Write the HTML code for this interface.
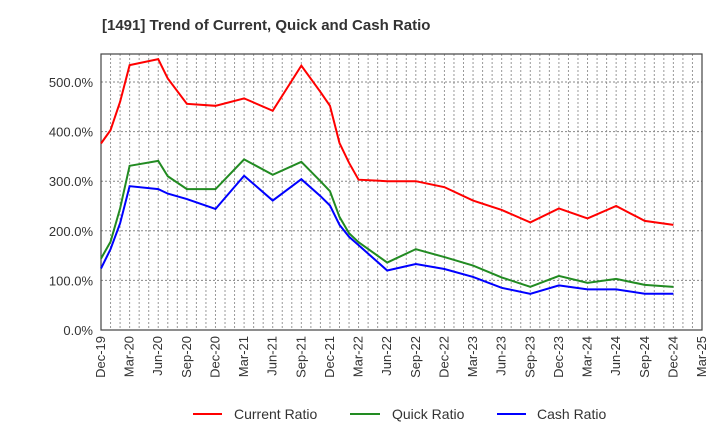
<!DOCTYPE html>
<html><head><meta charset="utf-8"><style>
body{margin:0;background:#fff;font-family:"Liberation Sans",sans-serif}
</style></head><body>
<svg id="c" width="720" height="440" xmlns="http://www.w3.org/2000/svg">
<text x="102" y="30" font-size="15" font-weight="bold" fill="#333">[1491]  Trend of Current, Quick and Cash Ratio</text>
<g id="grid"></g><g id="axes"></g><g id="series"></g>
<g>
<line x1="193" y1="414" x2="222" y2="414" stroke="#ff0000" stroke-width="2"/><text x="234" y="419" font-size="14" fill="#333">Current Ratio</text>
<line x1="350" y1="414" x2="380" y2="414" stroke="#228b22" stroke-width="2"/><text x="392" y="419" font-size="14" fill="#333">Quick Ratio</text>
<line x1="497" y1="414" x2="526" y2="414" stroke="#0000ff" stroke-width="2"/><text x="537" y="419" font-size="14" fill="#333">Cash Ratio</text>
</g>
</svg>
<script>
const months=[0,1,2,3,6,7,9,12,15,18,21,23,24,25,26,27,30,33,36,39,42,45,48,51,54,57,60];
const currentRatio=[376,403,460,534,546,507,456,452,467,442,533,480,452,377,337,303,300,300,288,261,242,217,245,225,250,220,212];
const quickRatio=[144,178,245,331,341,310,284,284,344,313,339,300,280,228,195,177,136,163,147,130,106,87,109,95,103,91,87];
const cashRatio=[124,163,215,290,284,275,264,244,311,261,304,270,251,212,188,171,120,133,123,107,85,73,90,82,82,73,73];
const xLabels=["Dec-19","Mar-20","Jun-20","Sep-20","Dec-20","Mar-21","Jun-21","Sep-21","Dec-21","Mar-22","Jun-22","Sep-22","Dec-22","Mar-23","Jun-23","Sep-23","Dec-23","Mar-24","Jun-24","Sep-24","Dec-24","Mar-25"];
const yTicks=[0,100,200,300,400,500];
const L=101,R=702,T=54,B=330,NM=63;
const x=m=>L+m*(R-L)/NM, y=v=>B-v*(B-82)/500;
const NS="http://www.w3.org/2000/svg";
function mk(p,t,a){const e=document.createElementNS(NS,t);for(const k in a)e.setAttribute(k,a[k]);p.appendChild(e);return e;}
const g=document.getElementById('grid'),ax=document.getElementById('axes'),s=document.getElementById('series');
for(let m=1;m<NM;m++){const l=mk(g,'line',{x1:x(m),x2:x(m),y1:T,y2:B,stroke:'#999','stroke-dasharray':'2,2','stroke-width':1});

}
yTicks.forEach(v=>{const l=mk(g,'line',{x1:L,x2:R,y1:y(v),y2:y(v),stroke:'#888','stroke-dasharray':'2,2','stroke-width':1});


const t=mk(ax,'text',{x:L-8,y:y(v)+5,'font-size':13,'text-anchor':'end',fill:'#333'});t.textContent=v.toFixed(1)+'%';

});
const fr=mk(ax,'rect',{x:L,y:T,width:R-L,height:B-T,fill:'none',stroke:'#444','stroke-width':1.2});


xLabels.forEach((lab,i)=>{const xx=x(i*3);const t=mk(ax,'text',{x:xx+4,y:B+6,'font-size':13,'text-anchor':'end',fill:'#333',transform:`rotate(-90 ${xx+4} ${B+6})`});t.textContent=lab;

});
[[currentRatio,'#ff0000','current-ratio-line'],[quickRatio,'#228b22','quick-ratio-line'],[cashRatio,'#0000ff','cash-ratio-line']].forEach(([d,c,n])=>{
const p=mk(s,'polyline',{points:d.map((v,i)=>x(months[i])+','+y(v)).join(' '),fill:'none',stroke:c,'stroke-width':2});

});
</script>
</body></html>
